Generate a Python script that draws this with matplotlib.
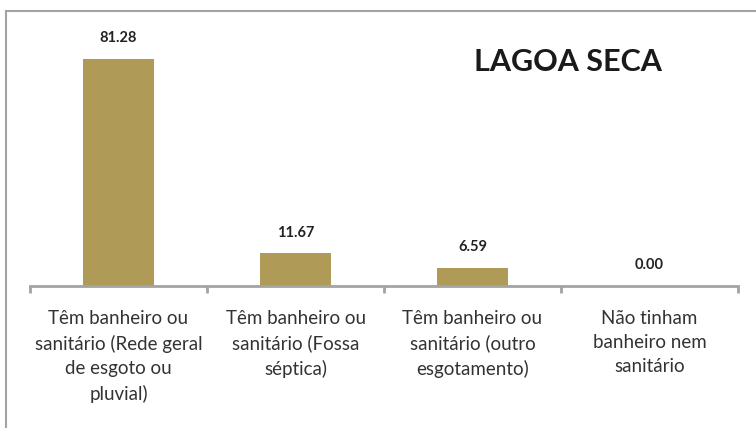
import matplotlib
matplotlib.use("Agg")
import matplotlib.pyplot as plt
from matplotlib.lines import Line2D

categories = [
    "Têm banheiro ou\nsanitário (Rede geral\nde esgoto ou\npluvial)",
    "Têm banheiro ou\nsanitário (Fossa\nséptica)",
    "Têm banheiro ou\nsanitário (outro\nesgotamento)",
    "Não tinham\nbanheiro nem\nsanitário",
]
values = [81.28, 11.67, 6.59, 0.00]
title = "LAGOA SECA"

bar_color = "#B09A58"
grey = "#A3A3A3"

fig = plt.figure(figsize=(7.56, 4.28), dpi=100)
ax = fig.add_axes([30 / 756, 142 / 428, 708 / 756, 251 / 428])

x = range(len(values))
ax.bar(x, values, width=0.4, color=bar_color, zorder=2)
ax.set_xlim(-0.5, len(values) - 0.5)
ax.set_ylim(0, 90)

for xi, v in zip(x, values):
    ax.annotate(f"{v:.2f}", (xi, v), xytext=(0, 10), textcoords="offset points",
                ha="center", va="bottom", fontsize=10.5, fontweight="bold",
                color="#222222", family="Lato")

# axis line and ticks between categories
for s in ["top", "right", "left"]:
    ax.spines[s].set_visible(False)
ax.spines["bottom"].set_color(grey)
ax.spines["bottom"].set_linewidth(2)
ax.set_yticks([])
ax.set_xticks([i - 0.5 for i in range(len(values) + 1)])
ax.set_xticklabels([])
ax.tick_params(axis="x", length=5, width=2, color=grey, direction="out")

for xi, lab in zip(x, categories):
    ax.text(xi, -0.095, lab, transform=ax.get_xaxis_transform(), ha="center",
            va="top", fontsize=13.5, color="#333333", family="Lato",
            linespacing=1.52)

fig.text(568 / 756, 1 - 62 / 428, title, ha="center", va="center",
         fontsize=22, fontweight="bold", color="#1a1a1a", family="Lato")

# outer frame (left and top edges visible)
fig.add_artist(Line2D([6 / 756, 6 / 756], [0, 1 - 11 / 428],
                      transform=fig.transFigure, color=grey, lw=1.5))
fig.add_artist(Line2D([6 / 756, 1], [1 - 11 / 428, 1 - 11 / 428],
                      transform=fig.transFigure, color=grey, lw=1.5))

fig.savefig("out.png", dpi=100)
